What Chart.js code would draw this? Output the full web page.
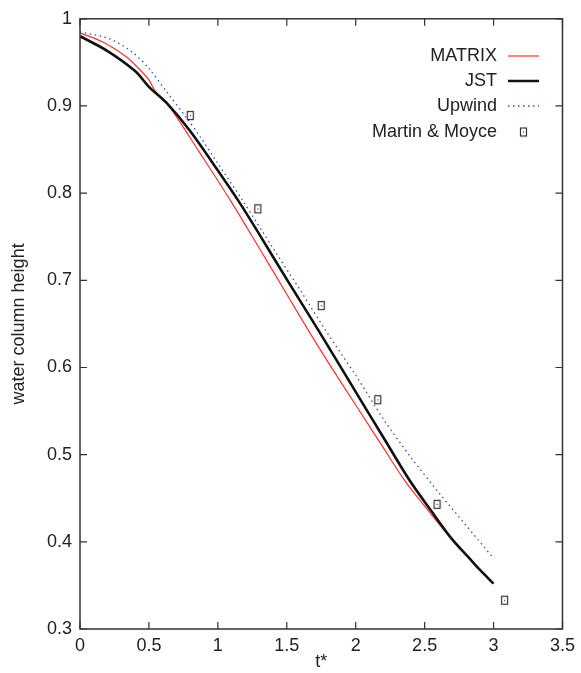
<!DOCTYPE html>
<html>
<head>
<meta charset="utf-8">
<script src="https://cdn.jsdelivr.net/npm/chart.js@4.4.1/dist/chart.umd.min.js"></script>
<style>
  html, body { margin: 0; padding: 0; background: #fff; }
  #wrap { width: 581px; height: 673px; }
</style>
</head>
<body>
<div id="wrap"><canvas id="heightChart" width="581" height="673"></canvas></div>
<script>
// water column height against dimensionless time t*
const matrixT = [0, 0.17, 0.34, 0.45, 0.5, 0.55, 0.65, 0.866, 1.082, 1.3, 1.5, 1.659, 1.804, 2.0, 2.2, 2.357, 2.5, 2.69, 2.75];
const matrixH = [0.984, 0.973, 0.956, 0.939, 0.930, 0.916, 0.899, 0.847, 0.794, 0.737, 0.684, 0.642, 0.605, 0.557, 0.508, 0.470, 0.441, 0.404, 0.394];

const jstT = [0, 0.2, 0.4, 0.5, 0.625, 0.8, 1.0, 1.154, 1.3, 1.5, 1.732, 2.0, 2.2, 2.393, 2.55, 2.694, 2.814, 2.9, 3.0];
const jstH = [0.980, 0.963, 0.940, 0.922, 0.904, 0.871, 0.826, 0.790, 0.753, 0.701, 0.642, 0.572, 0.520, 0.470, 0.435, 0.404, 0.383, 0.368, 0.352];

const upwindT = [0, 0.216, 0.385, 0.505, 0.625, 0.77, 0.866, 1.0, 1.178, 1.4, 1.6, 1.78, 2.0, 2.2, 2.4, 2.6, 2.8, 3.0];
const upwindH = [0.985, 0.977, 0.961, 0.942, 0.917, 0.887, 0.866, 0.834, 0.792, 0.737, 0.688, 0.643, 0.591, 0.541, 0.497, 0.457, 0.419, 0.381];

// experimental points
const expT = [0.80, 1.29, 1.75, 2.16, 2.59, 3.08];
const expH = [0.889, 0.782, 0.671, 0.563, 0.443, 0.333];

const xTicks = [0, 0.5, 1, 1.5, 2, 2.5, 3, 3.5];
const yTicks = [0.3, 0.4, 0.5, 0.6, 0.7, 0.8, 0.9, 1];

const FONT = "'Liberation Sans', Arial, sans-serif";
const INK = "#333";

function toPoints(ts, hs) {
  return ts.map((t, i) => ({ x: t, y: hs[i] }));
}

// plain number labels: 1, 0.9, 0.5 ...
function shortLabel(v) {
  return String(parseFloat(Number(v).toFixed(2)));
}

// little box with a dot, used for the experiment
function boxMarker() {
  const c = document.createElement("canvas");
  c.width = 9;
  c.height = 11;
  const g = c.getContext("2d");
  g.strokeStyle = INK;
  g.lineWidth = 1.2;
  g.strokeRect(1.5, 1.5, 6, 8);
  g.fillStyle = INK;
  g.fillRect(4, 5, 1.2, 1.2);
  return c;
}
const marker = boxMarker();

// frame with inward ticks on all four sides
const framePlugin = {
  id: "frame",
  afterDatasetsDraw(chart) {
    const { ctx, chartArea: a, scales } = chart;
    const len = 7;
    ctx.save();
    ctx.strokeStyle = INK;
    ctx.lineWidth = 1.5;
    ctx.strokeRect(a.left, a.top, a.right - a.left, a.bottom - a.top);
    ctx.lineWidth = 1.2;
    ctx.beginPath();
    xTicks.forEach((v) => {
      const px = scales.x.getPixelForValue(v);
      ctx.moveTo(px, a.bottom);
      ctx.lineTo(px, a.bottom - len);
      ctx.moveTo(px, a.top);
      ctx.lineTo(px, a.top + len);
    });
    yTicks.forEach((v) => {
      const py = scales.y.getPixelForValue(v);
      ctx.moveTo(a.left, py);
      ctx.lineTo(a.left + len, py);
      ctx.moveTo(a.right, py);
      ctx.lineTo(a.right - len, py);
    });
    ctx.stroke();
    ctx.restore();
  },
};

// legend in the upper right corner, text right aligned
const keyPlugin = {
  id: "key",
  afterDatasetsDraw(chart) {
    const { ctx } = chart;
    const textX = 497;
    const x0 = 508, x1 = 539;
    ctx.save();
    ctx.font = "18px " + FONT;
    ctx.fillStyle = "#222";
    ctx.textAlign = "right";
    ctx.textBaseline = "middle";
    const rows = [
      { label: "MATRIX", y: 56 },
      { label: "JST", y: 81 },
      { label: "Upwind", y: 106 },
      { label: "Martin & Moyce", y: 132 },
    ];
    rows.forEach((r) => ctx.fillText(r.label, textX, r.y));

    ctx.strokeStyle = "#ff3030";
    ctx.lineWidth = 1.2;
    ctx.beginPath(); ctx.moveTo(x0, 56); ctx.lineTo(x1, 56); ctx.stroke();

    ctx.strokeStyle = "#111";
    ctx.lineWidth = 2.5;
    ctx.beginPath(); ctx.moveTo(x0, 81); ctx.lineTo(x1, 81); ctx.stroke();

    ctx.strokeStyle = "#3050c0";
    ctx.lineWidth = 1.3;
    ctx.setLineDash([1.5, 3.5]);
    ctx.beginPath(); ctx.moveTo(x0, 106); ctx.lineTo(x1, 106); ctx.stroke();
    ctx.setLineDash([]);

    ctx.drawImage(marker, (x0 + x1) / 2 - 4.5, 132 - 5.5);
    ctx.restore();
  },
};

const ctx = document.getElementById("heightChart").getContext("2d");

new Chart(ctx, {
  type: "scatter",
  data: {
    datasets: [
      {
        label: "Martin & Moyce",
        data: toPoints(expT, expH),
        pointStyle: marker,
        pointRadius: 5,
        showLine: false,
        order: 0,
      },
      {
        label: "JST",
        data: toPoints(jstT, jstH),
        showLine: true,
        borderColor: "#111",
        borderWidth: 2.6,
        pointRadius: 0,
        tension: 0.3,
        order: 1,
      },
      {
        label: "Upwind",
        data: toPoints(upwindT, upwindH),
        showLine: true,
        borderColor: "#3050c0",
        borderWidth: 1.3,
        borderDash: [1.5, 3.5],
        pointRadius: 0,
        tension: 0.3,
        order: 2,
      },
      {
        label: "MATRIX",
        data: toPoints(matrixT, matrixH),
        showLine: true,
        borderColor: "#ff3030",
        borderWidth: 1.2,
        pointRadius: 0,
        tension: 0.3,
        order: 3,
      },
    ],
  },
  options: {
    responsive: false,
    animation: false,
    layout: { padding: { left: 0, right: 16, top: 16, bottom: 0 } },
    plugins: {
      legend: { display: false },
      tooltip: { enabled: false },
    },
    scales: {
      x: {
        type: "linear",
        min: 0,
        max: 3.5,
        afterBuildTicks: (scale) => {
          scale.ticks = xTicks.map((v) => ({ value: v }));
        },
        afterFit: (scale) => {
          scale.height = 44;
        },
        grid: { display: false, drawTicks: false },
        border: { display: false },
        ticks: {
          padding: 6,
          color: "#222",
          font: { family: FONT, size: 18 },
          callback: (v) => shortLabel(v),
        },
        title: {
          display: true,
          text: "t*",
          color: "#222",
          padding: { top: 2, bottom: 0 },
          font: { family: FONT, size: 18 },
        },
      },
      y: {
        type: "linear",
        min: 0.3,
        max: 1,
        afterBuildTicks: (scale) => {
          scale.ticks = yTicks.map((v) => ({ value: v }));
        },
        afterFit: (scale) => {
          scale.width = 80;
        },
        grid: { display: false, drawTicks: false },
        border: { display: false },
        ticks: {
          padding: 8,
          color: "#222",
          font: { family: FONT, size: 18 },
          callback: (v) => shortLabel(v),
        },
        title: {
          display: true,
          text: "water column height",
          color: "#222",
          padding: { top: 8, bottom: 0 },
          font: { family: FONT, size: 18 },
        },
      },
    },
  },
  plugins: [framePlugin, keyPlugin],
});
</script>
</body>
</html>
